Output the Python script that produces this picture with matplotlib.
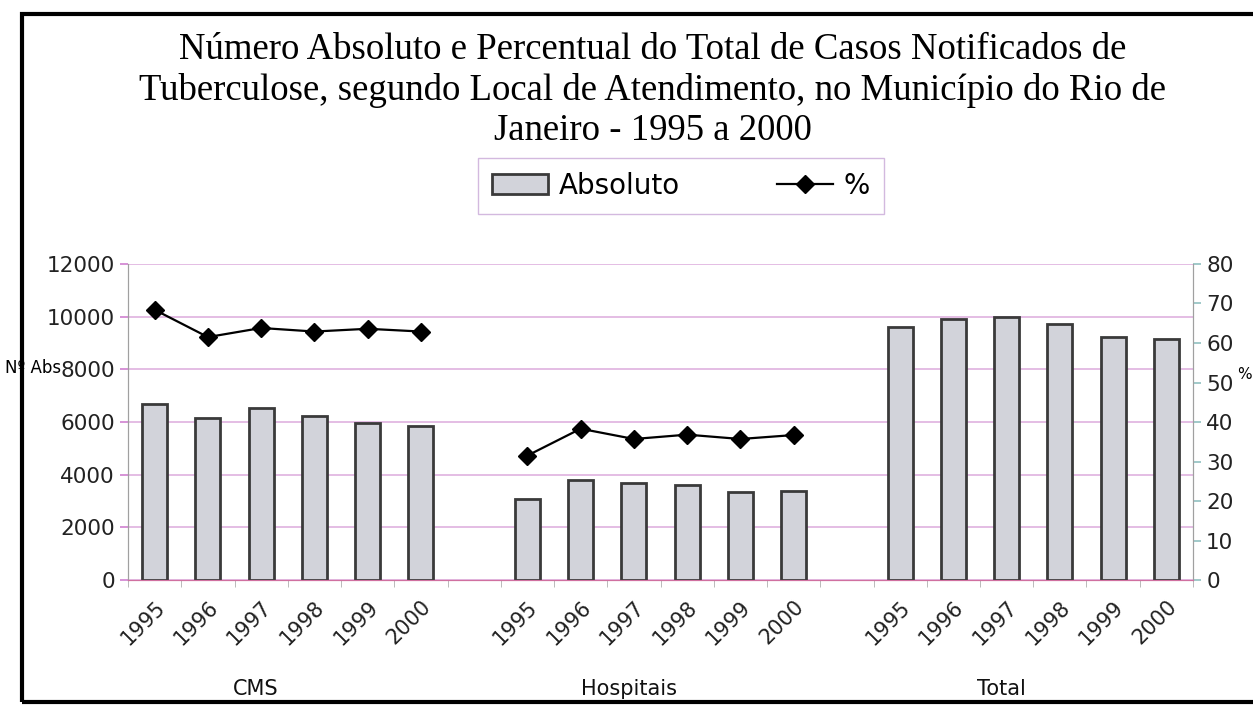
import numpy as np
import matplotlib.pyplot as plt
from matplotlib.patches import Rectangle
from matplotlib.lines import Line2D
from matplotlib.transforms import blended_transform_factory

groups = ['CMS', 'Hospitais', 'Total']
years = ['1995', '1996', '1997', '1998', '1999', '2000']

# numero absoluto de casos
abs_cms = [6680, 6140, 6540, 6240, 5980, 5860]
abs_hosp = [3080, 3810, 3680, 3600, 3350, 3370]
abs_total = [9610, 9930, 9970, 9720, 9220, 9150]

# percentual do total
pct_cms = [68.4, 61.5, 63.8, 62.9, 63.6, 62.9]
pct_hosp = [31.5, 38.3, 35.7, 36.8, 35.7, 36.7]

title = ("Número Absoluto e Percentual do Total de Casos Notificados de\n"
         "Tuberculose, segundo Local de Atendimento, no Município do Rio de\n"
         "Janeiro - 1995 a 2000")

# eixo de categorias: 6 anos por grupo, uma categoria vazia entre grupos
n = len(years)
x_cms = np.arange(n)
x_hosp = x_cms + n + 1
x_total = x_hosp + n + 1
x_all = np.concatenate([x_cms, x_hosp, x_total])
vals_all = abs_cms + abs_hosp + abs_total

fig = plt.figure(figsize=(12.53, 7.07), dpi=100)
ax = fig.add_axes([0.1022, 0.1796, 0.8499, 0.447])

ax.bar(x_all, vals_all, width=0.47, color='#d2d3da', edgecolor='#3a3a3a',
       linewidth=2, zorder=3)
ax.set_ylim(0, 12000)
ax.set_yticks(np.arange(0, 12001, 2000))
ax.set_xlim(-0.5, x_total[-1] + 0.5)
ax.grid(axis='y', color='#e2b8e2', linewidth=1.3, zorder=0)

ax2 = ax.twinx()
ax2.plot(x_cms, pct_cms, color='black', lw=1.6, marker='D', ms=9, zorder=4)
ax2.plot(x_hosp, pct_hosp, color='black', lw=1.6, marker='D', ms=9, zorder=4)
ax2.set_ylim(0, 80)
ax2.set_yticks(np.arange(0, 81, 10))

for a in (ax, ax2):
    a.spines['top'].set_visible(False)
    a.spines['left'].set_color('#a0a0a0')
    a.spines['right'].set_color('#a0a0a0')
    a.spines['bottom'].set_color('#d070a0')
    a.tick_params(axis='y', labelsize=15.5, colors='#222222', length=6,
                  width=1.2)
ax.tick_params(axis='y', color='#d080d0')
ax2.tick_params(axis='y', color='#90c0c0')

ax.set_xticks(x_all)
ax.set_xticklabels(years * 3, rotation=45, ha='right',
                   rotation_mode='anchor', fontsize=15, color='#222222')
ax.tick_params(axis='x', length=0, pad=12)
ax.set_xticks(np.arange(-0.5, x_total[-1] + 0.6, 1), minor=True)
ax.tick_params(axis='x', which='minor', length=5, color='#b0b0b0')

trans = blended_transform_factory(ax.transData, fig.transFigure)
for name, xs in zip(groups, [x_cms, x_hosp, x_total]):
    ax.text(xs.mean() - 0.6, 0.026, name, transform=trans, ha='center',
            va='center', fontsize=15, color='#111111')

fig.text(0.521, 0.954, title, ha='center', va='top', fontsize=26.5,
         family='Liberation Serif', linespacing=1.22)

handles = [Rectangle((0, 0), 1, 1, facecolor='#d2d3da', edgecolor='#3a3a3a',
                     linewidth=2),
           Line2D([], [], color='black', lw=1.6, marker='D', ms=9)]
fig.legend(handles, ['Absoluto', '%'], loc='center', ncol=2,
           bbox_to_anchor=(0.5435, 0.737), fontsize=20, frameon=True,
           fancybox=False, edgecolor='#c8a8d8', handlelength=2.0,
           handletextpad=0.4, columnspacing=3.5, borderpad=0.5)

fig.text(0.004, 0.4795, 'Nº Abs', fontsize=12, va='center', ha='left')
fig.text(0.987, 0.47, '%', fontsize=11, va='center', ha='left')

# moldura externa
fig.add_artist(Rectangle((0.0176, 0.007), 1.0, 0.973,
                         transform=fig.transFigure, fill=False,
                         edgecolor='black', linewidth=3, clip_on=False))

fig.savefig('out.png', dpi=100)
